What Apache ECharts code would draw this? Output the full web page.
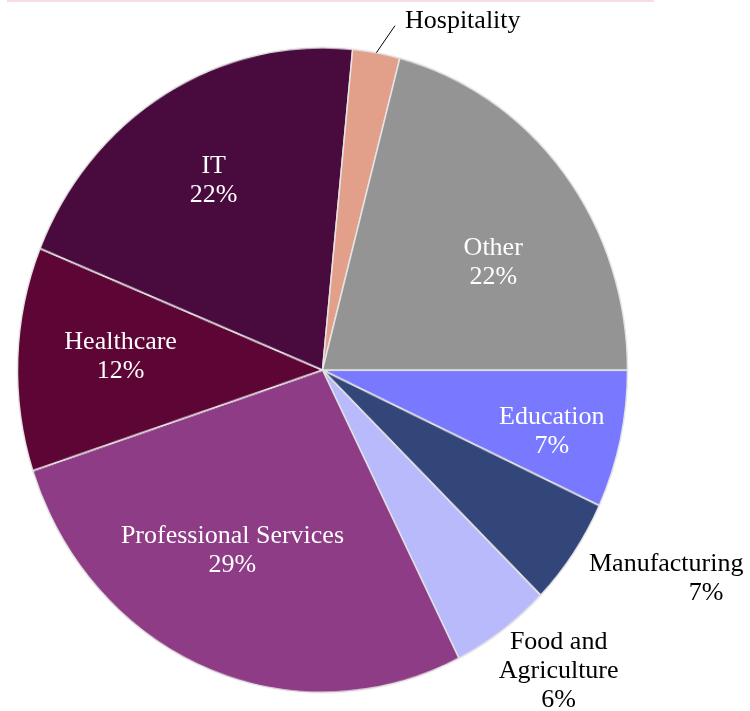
<!DOCTYPE html>
<html>
<head>
<meta charset="utf-8">
<script src="https://cdn.jsdelivr.net/npm/echarts@6/dist/echarts.min.js"></script>
<style>
html, body { margin: 0; padding: 0; background: #fff; }
#wrap { position: relative; width: 750px; height: 711px; overflow: hidden; }
/* the reference pie is a little taller than wide, so the slices are stretched */
#pie { position: absolute; left: 0; top: 0; width: 750px; height: 711px;
       transform: scaleY(1.057); transform-origin: 322.5px 370px; }
#labels { position: absolute; left: 0; top: 0; width: 750px; height: 711px; }
</style>
</head>
<body>
<div id="wrap">
    <div id="pie"></div>
    <div id="labels"></div>
</div>
<script>
// clockwise from 3 o'clock
const categories = ['Education', 'Manufacturing', 'Food and Agriculture', 'Professional Services',
                    'Healthcare', 'IT', 'Hospitality', 'Other'];
const labelNames = ['Education', 'Manufacturing', 'Food and\nAgriculture', 'Professional Services',
                    'Healthcare', 'IT', 'Hospitality', 'Other'];
const values = [6.9, 5.4, 5.3, 27.3, 11.2, 20.4, 2.5, 20.9];
const pctLabels = ['7%', '7%', '6%', '29%', '12%', '22%', '', '22%'];
const colors = ['#7879fe', '#33467a', '#b8bafc', '#8e3c85', '#5d0535', '#490a3d', '#e2a08b', '#949494'];
const outside = ['Manufacturing', 'Food and Agriculture', 'Hospitality'];

const CX = 322.5, CY = 370, R = 305, STRETCH = 1.057;
const FONT = 'Liberation Serif, Times New Roman, serif';

// small hand tweaks so the labels sit where the reference has them
const labelNudge = {
    'Education': [31, 15],
    'Professional Services': [-12, -17],
    'Healthcare': [1, -6],
    'IT': [-4, -6],
    'Other': [10, 24],
    'Hospitality': [2, -4],
    'Manufacturing': [-28, 10],
    'Food and Agriculture': [19, 19]
};

const pieChart = echarts.init(document.getElementById('pie'));
pieChart.setOption({
    animation: false,
    series: [{
        type: 'pie',
        center: [CX, CY],
        radius: [0, R],
        startAngle: 0,
        clockwise: true,
        silent: true,
        label: { show: false },
        labelLine: { show: false },
        itemStyle: { borderColor: '#e4e4e4', borderWidth: 1.5 },
        data: categories.map((c, i) => ({ name: c, value: values[i], itemStyle: { color: colors[i] } }))
    }]
});

const labelChart = echarts.init(document.getElementById('labels'));
labelChart.setOption({
    animation: false,
    graphic: [{
        type: 'rect', left: 7, top: 0, silent: true,
        shape: { width: 647, height: 2 }, style: { fill: '#f7dbe5' }
    }],
    series: [{
        type: 'pie',
        center: [CX, CY],
        radius: [95, R],
        startAngle: 0,
        clockwise: true,
        silent: true,
        avoidLabelOverlap: false,
        itemStyle: { color: 'rgba(0,0,0,0)' },
        label: {
            show: true,
            position: 'inside',
            fontFamily: FONT,
            fontSize: 26,
            lineHeight: 29,
            color: '#fff',
            formatter: p => {
                const i = p.dataIndex;
                if (categories[i] === 'Manufacturing') {
                    return '{n|' + labelNames[i] + '}\n{p|' + pctLabels[i] + '}';
                }
                return pctLabels[i] ? labelNames[i] + '\n' + pctLabels[i] : labelNames[i];
            },
            rich: {
                n: { fontFamily: FONT, fontSize: 26, lineHeight: 29, color: '#000' },
                p: { fontFamily: FONT, fontSize: 26, lineHeight: 29, color: '#000', align: 'right', padding: [0, 20, 0, 0] }
            }
        },
        labelLine: { show: true, length: 26, length2: 14, lineStyle: { color: '#000', width: 1 } },
        labelLayout: function (p) {
            const name = categories[p.dataIndex];
            const nudge = labelNudge[name] || [0, 0];
            const midY = p.labelRect.y + p.labelRect.height / 2;
            const res = { dx: nudge[0], dy: (midY - CY) * (STRETCH - 1) + nudge[1] };
            if (name === 'Food and Agriculture') res.align = 'center';
            if (name === 'Hospitality' && p.labelLinePoints) {
                const pts = p.labelLinePoints.map(q => [q[0], CY + (q[1] - CY) * STRETCH]);
                res.labelLinePoints = [pts[0], pts[pts.length - 1]];
            }
            return res;
        },
        data: categories.map((c, i) => {
            const item = { name: c, value: values[i] };
            if (outside.indexOf(c) >= 0) {
                item.label = { position: 'outside', color: '#000', distanceToLabelLine: 8 };
                item.labelLine = { show: c === 'Hospitality' };
            }
            return item;
        })
    }]
});
</script>
</body>
</html>
